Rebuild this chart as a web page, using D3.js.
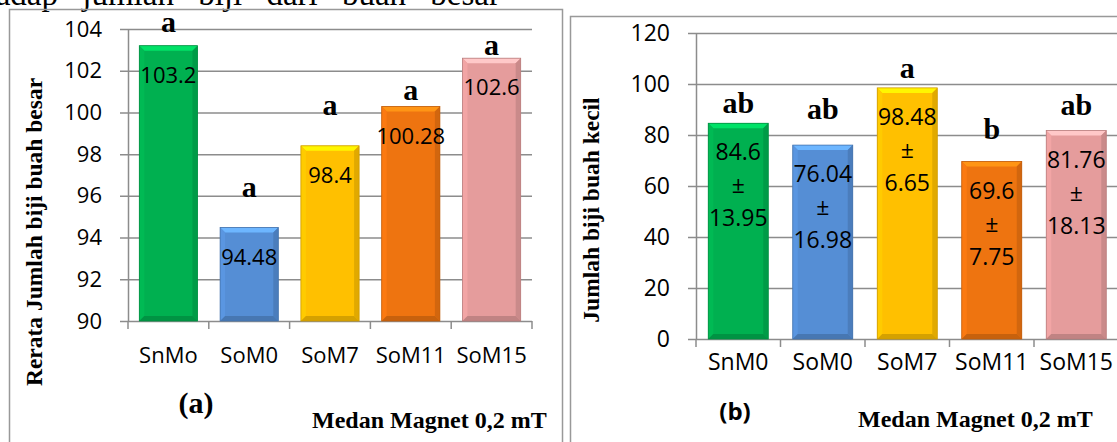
<!DOCTYPE html>
<html>
<head>
<meta charset="utf-8">
<script src="https://cdn.jsdelivr.net/npm/d3@7"></script>
<style>
  body { margin: 0; background: #fff; }
  svg { display: block; }
</style>
</head>
<body>
<svg id="chart" width="1117" height="442"></svg>
<script>
// panel (a) - rerata jumlah biji buah besar
const catsA = ["SnMo", "SoM0", "SoM7", "SoM11", "SoM15"];
const valsA = [103.2, 94.48, 98.4, 100.28, 102.6];
const lettersA = ["a", "a", "a", "a", "a"];
// level (in axis units) where each notation letter sits
const letterAtA = [103.87, 95.96, 99.88, 100.6, 102.75];
const ticksA = [90, 92, 94, 96, 98, 100, 102, 104];

// panel (b) - jumlah biji buah kecil
const catsB = ["SnM0", "SoM0", "SoM7", "SoM11", "SoM15"];
const valsB = [84.6, 76.04, 98.48, 69.6, 81.76];
const sdB = [13.95, 16.98, 6.65, 7.75, 18.13];
const lettersB = ["ab", "ab", "a", "b", "ab"];
const letterAtB = [88.6, 86.2, 102.4, 78.4, 87.8];
const ticksB = [0, 20, 40, 60, 80, 100, 120];

const barColors = ["#00b050", "#558ed5", "#ffc000", "#ee7410", "#e59c9c"];

const SANS = '"Open Sans", "DejaVu Sans", sans-serif';
const SERIF = '"Liberation Serif", "Times New Roman", serif';
const GRID = "#8c8c8c";

const svg = d3.select("#chart");

// caption of the page, only its lower part is visible
svg.append("text")
  .attr("x", 500)
  .attr("y", 5)
  .attr("text-anchor", "end")
  .attr("font-family", SERIF)
  .attr("font-size", 33)
  .attr("word-spacing", 16)
  .text("terhadap jumlah biji dari buah besar");

// frames round the two charts
svg.append("rect")
  .attr("x", 9.5).attr("y", 9.5).attr("width", 553).attr("height", 500)
  .attr("fill", "none").attr("stroke", "#999").attr("stroke-width", 1.5);
svg.append("rect")
  .attr("x", 570.5).attr("y", 16.5).attr("width", 600).attr("height", 500)
  .attr("fill", "none").attr("stroke", "#999").attr("stroke-width", 1.5);

/**
 * Excel-like bevelled bar
 */
function bevelBar(g, x0, y0, w, h, color) {
  const b = Math.min(5, h / 2);
  const x1 = x0 + w;
  const y1 = y0 + h;
  const c = d3.color(color);
  const bar = g.append("g");
  bar.append("rect")
    .attr("x", x0).attr("y", y0).attr("width", w).attr("height", h)
    .attr("fill", color);
  const face = (pts, fill) =>
    bar.append("polygon")
      .attr("points", pts.map((p) => p.join(",")).join(" "))
      .attr("fill", fill);
  face([[x0, y0], [x1, y0], [x1 - b, y0 + b], [x0 + b, y0 + b]], c.brighter(0.7));
  face([[x0, y0], [x0 + b, y0 + b], [x0 + b, y1 - b], [x0, y1]], c.brighter(0.15));
  face([[x1, y0], [x1, y1], [x1 - b, y1 - b], [x1 - b, y0 + b]], c.darker(0.35));
  face([[x0, y1], [x0 + b, y1 - b], [x1 - b, y1 - b], [x1, y1]], c.darker(0.5));
  bar.append("rect")
    .attr("x", x0).attr("y", y0).attr("width", w).attr("height", h)
    .attr("fill", "none")
    .attr("stroke", c.darker(0.6))
    .attr("stroke-width", 0.8);
}

function panel(opt) {
  const x = d3.scaleBand()
    .domain(opt.cats)
    .range([opt.left, opt.right])
    .paddingInner(opt.pad)
    .paddingOuter(opt.pad / 2);
  const y = d3.scaleLinear().domain(opt.domain).range([opt.bottom, opt.top]);
  const g = svg.append("g");

  // grid + y labels
  const yAxis = g.append("g")
    .attr("transform", `translate(${opt.left},0)`)
    .call(d3.axisLeft(y)
      .tickValues(opt.ticks)
      .tickSize(-(opt.right - opt.left))
      .tickSizeOuter(0)
      .tickPadding(26));
  yAxis.selectAll(".tick line")
    .attr("x1", -8)
    .attr("stroke", GRID)
    .attr("stroke-width", 1.5);
  yAxis.select(".domain").attr("stroke", GRID).attr("stroke-width", 1.5);
  yAxis.selectAll(".tick text")
    .attr("font-family", SANS)
    .attr("font-size", opt.fontSize)
    .attr("fill", "#000");

  // category boundary ticks
  d3.range(opt.cats.length + 1).forEach((i) => {
    const e = opt.left + i * x.step();
    g.append("line")
      .attr("x1", e).attr("x2", e)
      .attr("y1", opt.bottom).attr("y2", opt.bottom + 8)
      .attr("stroke", GRID).attr("stroke-width", 1.5);
  });

  // category labels
  const xAxis = g.append("g")
    .attr("transform", `translate(0,${opt.bottom})`)
    .call(d3.axisBottom(x).tickSize(0).tickPadding(opt.labelPad));
  xAxis.select(".domain").remove();
  xAxis.selectAll(".tick text")
    .attr("font-family", SANS)
    .attr("font-size", opt.fontSize)
    .attr("fill", "#000");

  // bars
  opt.cats.forEach((c, i) => {
    const v = opt.vals[i];
    bevelBar(g, x(c), y(v), x.bandwidth(), opt.bottom - y(v), barColors[i]);
  });

  // value labels inside the bars
  opt.cats.forEach((c, i) => {
    const v = opt.vals[i];
    const lines = opt.sd ? [String(v), "\u00b1", String(opt.sd[i])] : [String(v)];
    lines.forEach((t, k) => {
      g.append("text")
        .attr("x", x(c) + x.bandwidth() / 2)
        .attr("y", y(v) + 37 + k * 33)
        .attr("text-anchor", "middle")
        .attr("font-family", SANS)
        .attr("font-size", opt.fontSize)
        .attr("fill", "#000")
        .text(t);
    });
  });

  // notation letters
  opt.cats.forEach((c, i) => {
    g.append("text")
      .attr("x", x(c) + x.bandwidth() / 2)
      .attr("y", y(opt.letterAt[i]))
      .attr("text-anchor", "middle")
      .attr("font-family", SERIF)
      .attr("font-weight", "bold")
      .attr("font-size", 30)
      .text(opt.letters[i]);
  });

  // y title
  g.append("text")
    .attr("transform", `translate(${opt.titleX},${opt.titleY}) rotate(-90)`)
    .attr("text-anchor", "middle")
    .attr("font-family", SERIF)
    .attr("font-weight", "bold")
    .attr("font-size", 23.5)
    .text(opt.title);

  // panel tag and x title
  g.append("text")
    .attr("x", opt.tagX)
    .attr("y", opt.tagY)
    .attr("text-anchor", "middle")
    .attr("font-family", opt.tagFont)
    .attr("font-weight", "bold")
    .attr("font-size", opt.tagSize)
    .text(opt.tag);
  g.append("text")
    .attr("x", opt.xTitleX)
    .attr("y", opt.xTitleY)
    .attr("font-family", SERIF)
    .attr("font-weight", "bold")
    .attr("font-size", 24)
    .text("Medan Magnet 0,2 mT");
}

panel({
  cats: catsA, vals: valsA, letters: lettersA, letterAt: letterAtA,
  ticks: ticksA, domain: [90, 104],
  left: 128, right: 532, top: 29, bottom: 321, pad: 0.28,
  fontSize: 22, labelPad: 26,
  title: "Rerata Jumlah biji buah besar", titleX: 42, titleY: 232,
  tag: "(a)", tagX: 196, tagY: 413, tagFont: SERIF, tagSize: 30,
  xTitleX: 312, xTitleY: 428,
});

panel({
  cats: catsB, vals: valsB, sd: sdB, letters: lettersB, letterAt: letterAtB,
  ticks: ticksB, domain: [0, 120],
  left: 696, right: 1118.5, top: 33, bottom: 339, pad: 0.29,
  fontSize: 23, labelPad: 15,
  title: "Jumlah biji buah kecil", titleX: 599, titleY: 210,
  tag: "(b)", tagX: 735, tagY: 420, tagFont: SANS, tagSize: 24,
  xTitleX: 858, xTitleY: 427,
});
</script>
</body>
</html>
